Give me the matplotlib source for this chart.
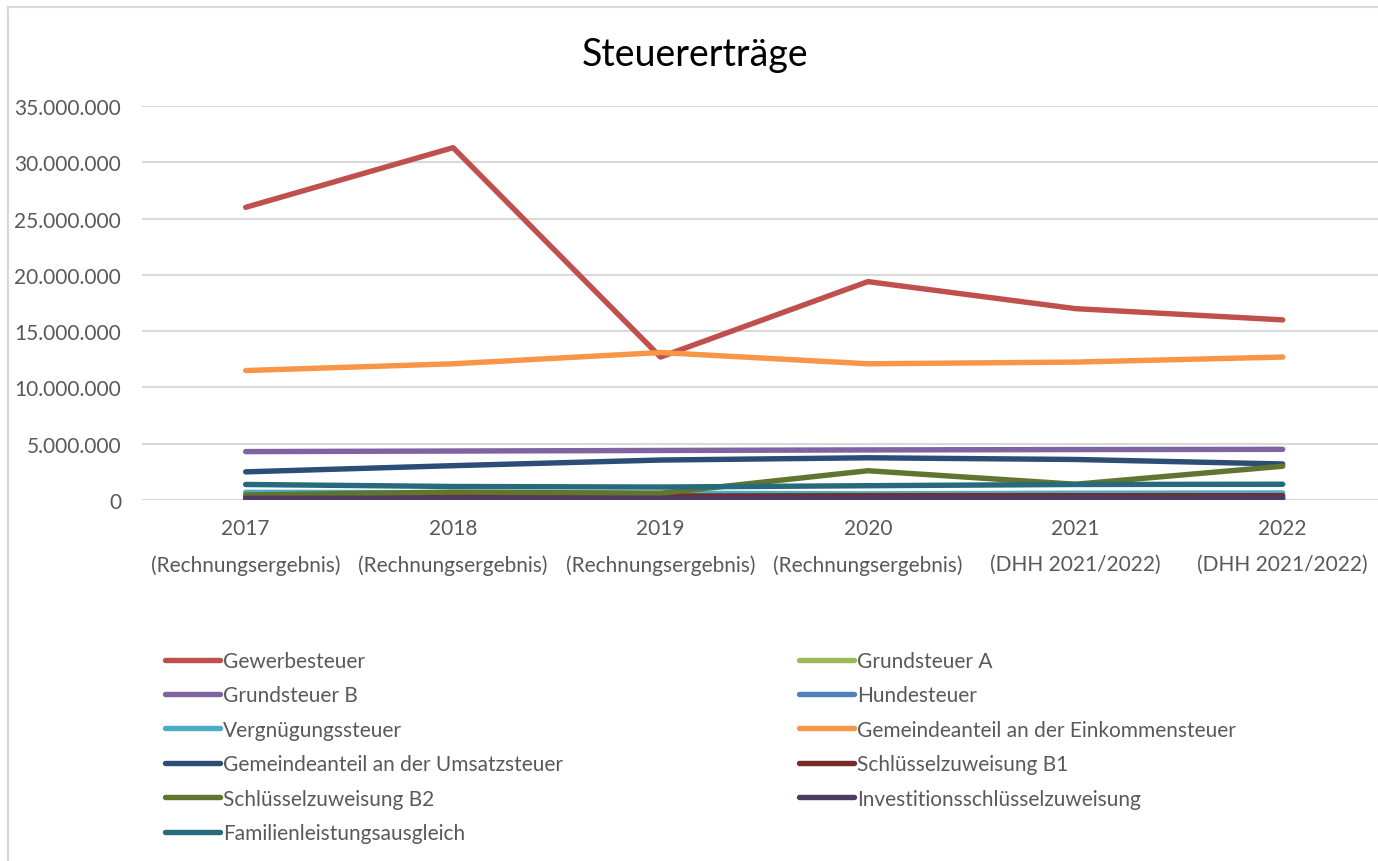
import matplotlib
matplotlib.use("Agg")
import matplotlib.pyplot as plt
from matplotlib.lines import Line2D
from matplotlib.ticker import FuncFormatter

plt.rcParams["font.family"] = ["Lato", "DejaVu Sans"]

years = ["2017\n(Rechnungsergebnis)", "2018\n(Rechnungsergebnis)", "2019\n(Rechnungsergebnis)",
         "2020\n(Rechnungsergebnis)", "2021\n(DHH 2021/2022)", "2022\n(DHH 2021/2022)"]

gewerbesteuer = [26.0e6, 31.3e6, 12.7e6, 19.4e6, 17.0e6, 16.0e6]
grundsteuer_a = [0.03e6, 0.03e6, 0.03e6, 0.03e6, 0.03e6, 0.03e6]
grundsteuer_b = [4.3e6, 4.35e6, 4.4e6, 4.45e6, 4.48e6, 4.5e6]
hundesteuer = [0.12e6, 0.12e6, 0.12e6, 0.13e6, 0.13e6, 0.13e6]
vergnuegungssteuer = [0.68e6, 0.65e6, 0.6e6, 0.55e6, 0.6e6, 0.62e6]
einkommensteuer = [11.5e6, 12.1e6, 13.1e6, 12.1e6, 12.25e6, 12.7e6]
umsatzsteuer = [2.5e6, 3.05e6, 3.55e6, 3.75e6, 3.6e6, 3.2e6]
schluessel_b1 = [0.3e6, 0.3e6, 0.35e6, 0.38e6, 0.38e6, 0.38e6]
schluessel_b2 = [0.45e6, 0.7e6, 0.6e6, 2.6e6, 1.4e6, 3.0e6]
investition = [0.15e6, 0.15e6, 0.15e6, 0.18e6, 0.18e6, 0.18e6]
familienleistung = [1.38e6, 1.2e6, 1.15e6, 1.27e6, 1.38e6, 1.4e6]

series = [
    ("Gewerbesteuer", gewerbesteuer, "#C0504D"),
    ("Grundsteuer A", grundsteuer_a, "#9BBB59"),
    ("Grundsteuer B", grundsteuer_b, "#8064A2"),
    ("Hundesteuer", hundesteuer, "#4F81BD"),
    ("Vergnügungssteuer", vergnuegungssteuer, "#4BACC6"),
    ("Gemeindeanteil an der Einkommensteuer", einkommensteuer, "#F79646"),
    ("Gemeindeanteil an der Umsatzsteuer", umsatzsteuer, "#2C4D75"),
    ("Schlüsselzuweisung B1", schluessel_b1, "#772C2A"),
    ("Schlüsselzuweisung B2", schluessel_b2, "#5F7530"),
    ("Investitionsschlüsselzuweisung", investition, "#4D3B62"),
    ("Familienleistungsausgleich", familienleistung, "#276A7C"),
]

W, H = 1378, 862
LW = 3.9
fig = plt.figure(figsize=(W / 100, H / 100), dpi=100)
ax = fig.add_axes([142 / W, 1 - 501 / H, (W - 142) / W, (501 - 107) / H])

x = list(range(len(years)))
for name, vals, col in series:
    ax.plot(x, vals, color=col, lw=LW, solid_capstyle="round", solid_joinstyle="round", label=name)

ax.set_ylim(0, 35e6)
ax.set_xlim(-0.5, -0.5 + (W - 142) / 207.4)
ax.set_yticks([i * 5e6 for i in range(8)])
ax.yaxis.set_major_formatter(FuncFormatter(lambda v, p: f"{int(v):,}".replace(",", ".")))
ax.set_xticks(x)
ax.set_xticklabels(years, linespacing=2.0)
ax.grid(axis="y", color="#D9D9D9", lw=1.5)
ax.set_axisbelow(True)
for s in ax.spines.values():
    s.set_visible(False)
ax.tick_params(axis="y", length=0, pad=15, labelsize=15, labelcolor="#595959")
ax.tick_params(axis="x", length=0, pad=13, labelsize=15, labelcolor="#595959")

fig.text(695 / W, 1 - 55 / H, "Steuererträge", ha="center", va="center", fontsize=27, color="#000000")

# legend, filled row by row like in the reference
handles = [Line2D([], [], color=col, lw=LW, solid_capstyle="round") for _, _, col in series]
labels = [name for name, _, _ in series]
for start, xpos in ((0, 165), (1, 799)):
    fig.legend(handles[start::2], labels[start::2], loc="upper left",
               bbox_to_anchor=(xpos / W, 1 - 652 / H), frameon=False, fontsize=15,
               labelcolor="#595959", handlelength=2.65, handletextpad=0.15,
               labelspacing=0.69, borderpad=0, borderaxespad=0)

# outer chart border (top and left only, rest is cropped)
fig.add_artist(Line2D([8 / W, 1], [1 - 8 / H, 1 - 8 / H], color="#D9D9D9", lw=1.5))
fig.add_artist(Line2D([8 / W, 8 / W], [0, 1 - 8 / H], color="#D9D9D9", lw=1.5))

fig.savefig("out.png", dpi=100)
